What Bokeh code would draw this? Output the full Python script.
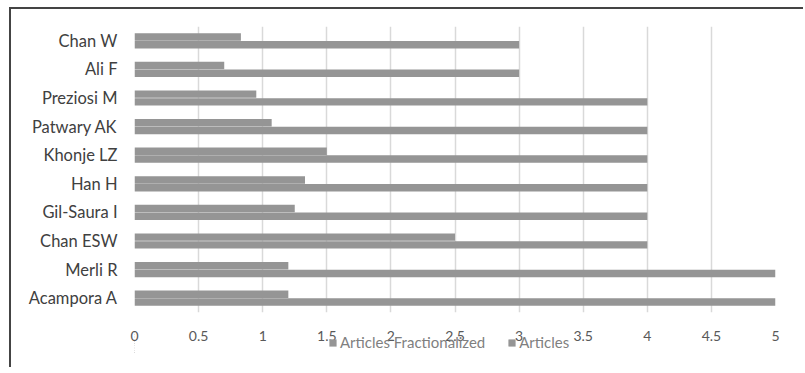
from bokeh.plotting import figure
from bokeh.layouts import column
from bokeh.models import FactorRange, FixedTicker, Legend, LegendItem
from bokeh.transform import dodge
from bokeh.embed import file_html
from bokeh.resources import INLINE

authors = ["Chan W", "Ali F", "Preziosi M", "Patwary AK", "Khonje LZ",
           "Han H", "Gil-Saura I", "Chan ESW", "Merli R", "Acampora A"]
articles_fractionalized = [0.83, 0.70, 0.95, 1.07, 1.50, 1.33, 1.25, 2.50, 1.20, 1.20]
articles = [3, 3, 4, 4, 4, 4, 4, 4, 5, 5]
tick_values = [0, 0.5, 1, 1.5, 2, 2.5, 3, 3.5, 4, 4.5, 5]
tick_labels = ["0", "0.5", "1", "1.5", "2", "2.5", "3", "3.5", "4", "4.5", "5"]
series_names = ["Articles Fractionalized", "Articles"]

FONT = "Lato"
BAR = "#959595"

src = dict(author=authors, frac=articles_fractionalized, art=articles)

# main chart
p = figure(output_backend="svg", toolbar_location=None,
           y_range=FactorRange(*reversed(authors)), x_range=(0, 5),
           frame_width=641, frame_height=286,
           min_border_left=123, min_border_right=28, min_border_top=17, min_border_bottom=30)
p.hbar(y=dodge("author", 0.135, range=p.y_range), right="frac", left=0, height=0.26,
       source=src, fill_color=BAR, line_color=None)
p.hbar(y=dodge("author", -0.135, range=p.y_range), right="art", left=0, height=0.26,
       source=src, fill_color=BAR, line_color=None)
p.background_fill_alpha = 0
p.border_fill_alpha = 0
p.outline_line_color = None
p.xgrid.ticker = FixedTicker(ticks=tick_values)
p.xgrid.grid_line_color = "#d9d9d9"
p.xgrid.grid_line_width = 1.5
p.ygrid.grid_line_color = None

p.xaxis.ticker = FixedTicker(ticks=tick_values)
p.xaxis.major_label_overrides = {v: l for v, l in zip(tick_values, tick_labels)}
p.xaxis.axis_line_color = None
p.xaxis.major_tick_line_color = None
p.xaxis.major_tick_out = 0
p.xaxis.major_tick_in = 0
p.xaxis.minor_tick_line_color = None
p.xaxis.axis_label_standoff = 0
p.xaxis.major_label_text_font = FONT
p.xaxis.major_label_text_font_size = "14px"
p.xaxis.major_label_text_color = "#595959"
p.xaxis.major_label_standoff = 18

p.yaxis.axis_line_color = None
p.yaxis.major_tick_line_color = None
p.yaxis.major_tick_out = 0
p.yaxis.major_tick_in = 0
p.yaxis.minor_tick_line_color = None
p.yaxis.axis_label_standoff = 0
p.yaxis.major_label_text_font = FONT
p.yaxis.major_label_text_font_size = "16.5px"
p.yaxis.major_label_text_color = "#404040"
p.yaxis.major_label_standoff = 17

# legend strip (bars kept outside its visible x range; only the legend shows)
pl = figure(output_backend="svg", toolbar_location=None,
            y_range=FactorRange(*reversed(authors)), x_range=(10, 11),
            x_axis_location=None, y_axis_location=None,
            frame_width=641, frame_height=22,
            min_border_left=123, min_border_right=28, min_border_top=0, min_border_bottom=14)
l1 = pl.hbar(y="author", right="frac", left=0, height=0.26, source=src,
             fill_color=BAR, line_color=None)
l2 = pl.hbar(y="author", right="art", left=0, height=0.26, source=src,
             fill_color=BAR, line_color=None)
pl.xgrid.grid_line_color = None
pl.ygrid.grid_line_color = None
pl.outline_line_color = None
pl.background_fill_alpha = 0
pl.border_fill_alpha = 0
pl.margin = (-12, 0, 0, 0)

legend = Legend(items=[LegendItem(label=series_names[0], renderers=[l1]),
                       LegendItem(label=series_names[1], renderers=[l2])],
                orientation="horizontal", location=(194, 2),
                padding=0, margin=0, spacing=22, label_standoff=3,
                glyph_width=9, glyph_height=9, label_height=15,
                label_text_font=FONT, label_text_font_size="15px",
                label_text_color="#7f7f7f", border_line_color=None,
                background_fill_alpha=0)
pl.add_layout(legend, "center")

layout = column(p, pl, spacing=0)
layout.margin = (7, 0, 0, 9)
layout.styles = {"border-top": "2px solid #444444", "border-left": "2px solid #444444"}

open("out.html", "w").write(file_html(layout, INLINE))
